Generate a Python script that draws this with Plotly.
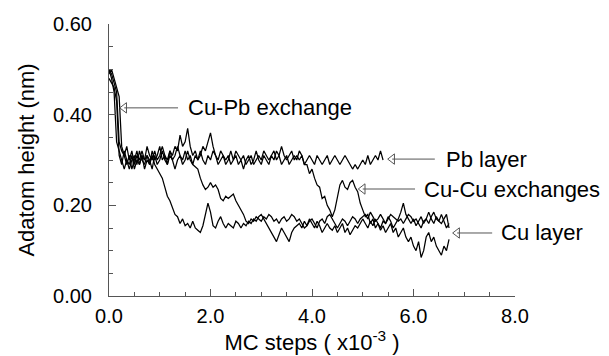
import numpy as np
import plotly.graph_objects as go

# Sampling interval of the recorded trajectories (x10^-3 MC steps)
STEP = 0.05

# Adatom height (nm) for the run that stays in the Pb layer
pb_run = [
    0.50, 0.49, 0.47, 0.45, 0.34, 0.32, 0.31, 0.33, 0.30, 0.32,
    0.29, 0.31, 0.30, 0.32, 0.30, 0.31, 0.29, 0.32, 0.30, 0.31,
    0.33, 0.30, 0.31, 0.29, 0.32, 0.30, 0.31, 0.33, 0.31, 0.30,
    0.32, 0.30, 0.31, 0.29, 0.31, 0.30, 0.32, 0.30, 0.29, 0.31,
    0.30, 0.32, 0.31, 0.29, 0.30, 0.31, 0.29, 0.30, 0.32, 0.30,
    0.31, 0.29, 0.30, 0.28, 0.30, 0.31, 0.29, 0.30, 0.32, 0.30,
    0.29, 0.31, 0.30, 0.29, 0.31, 0.30, 0.32, 0.31, 0.29, 0.30,
    0.31, 0.29, 0.30, 0.31, 0.30, 0.32, 0.31, 0.29, 0.30, 0.31,
    0.30, 0.29, 0.31, 0.30, 0.29, 0.30, 0.31, 0.29, 0.30, 0.31,
    0.30, 0.29, 0.30, 0.31, 0.30, 0.29, 0.28, 0.29, 0.28, 0.29,
    0.30, 0.29, 0.31, 0.29, 0.30, 0.31, 0.30, 0.32, 0.30,
]

# Run with an early Cu-Cu exchange (~1.0)
cu_run_a = [
    0.50, 0.48, 0.45, 0.34, 0.32, 0.30, 0.28, 0.30, 0.29, 0.31,
    0.28, 0.30, 0.29, 0.31, 0.28, 0.30, 0.29, 0.31, 0.29, 0.28,
    0.27, 0.26, 0.24, 0.22, 0.21, 0.195, 0.18, 0.175, 0.16, 0.17,
    0.155, 0.16, 0.15, 0.165, 0.15, 0.145, 0.14, 0.155, 0.18, 0.205,
    0.185, 0.155, 0.15, 0.165, 0.175, 0.16, 0.15, 0.16, 0.155, 0.15,
    0.165, 0.16, 0.15, 0.16, 0.155, 0.165, 0.16, 0.17, 0.165, 0.175,
    0.18, 0.17, 0.16, 0.15, 0.14, 0.13, 0.12, 0.135, 0.15, 0.14,
    0.13, 0.12, 0.14, 0.15, 0.155, 0.16, 0.15, 0.165, 0.155, 0.17,
    0.16, 0.15, 0.165, 0.155, 0.14, 0.15, 0.16, 0.15, 0.145, 0.155,
    0.14, 0.15, 0.16, 0.14, 0.15, 0.135, 0.145, 0.155, 0.15, 0.16,
    0.17, 0.16, 0.15, 0.165, 0.155, 0.17, 0.16, 0.15, 0.165, 0.16,
    0.175, 0.165, 0.15, 0.16, 0.17, 0.185, 0.205, 0.18, 0.17, 0.16,
    0.17, 0.155, 0.165, 0.175, 0.16, 0.17, 0.185, 0.17, 0.16, 0.175,
    0.165, 0.18, 0.165, 0.15, 0.16,
]

# Run with a Cu-Cu exchange around 1.8
cu_run_b = [
    0.48, 0.47, 0.46, 0.43, 0.31, 0.29, 0.32, 0.30, 0.28, 0.30,
    0.31, 0.29, 0.32, 0.30, 0.29, 0.31, 0.30, 0.28, 0.31, 0.29,
    0.30, 0.32, 0.30, 0.29, 0.31, 0.30, 0.28, 0.30, 0.31, 0.29,
    0.30, 0.32, 0.30, 0.29, 0.285, 0.28, 0.26, 0.245, 0.235, 0.24,
    0.25, 0.24, 0.245, 0.235, 0.215, 0.21, 0.22, 0.215, 0.22, 0.225,
    0.21, 0.20, 0.19, 0.18, 0.165, 0.16, 0.17, 0.165, 0.175, 0.17,
    0.165, 0.175, 0.17, 0.18, 0.175, 0.165, 0.17, 0.16, 0.17, 0.175,
    0.165, 0.17, 0.18, 0.175, 0.165, 0.17, 0.16, 0.15, 0.155, 0.165,
    0.17, 0.16, 0.15, 0.165, 0.17, 0.16, 0.175, 0.18, 0.17, 0.16,
    0.15, 0.16, 0.17, 0.165, 0.155, 0.165, 0.175, 0.17, 0.16, 0.17,
    0.175, 0.18, 0.17, 0.185, 0.175, 0.165, 0.17, 0.18, 0.17, 0.16,
    0.17, 0.18, 0.175, 0.17, 0.165, 0.17, 0.16, 0.17, 0.18, 0.175,
    0.165, 0.17, 0.16, 0.15, 0.165, 0.17, 0.16, 0.175, 0.185, 0.17,
    0.165, 0.16, 0.17, 0.18, 0.15,
]

# Run with a late, two-step Cu-Cu exchange (~4.0 and ~4.9)
cu_run_c = [
    0.49, 0.50, 0.48, 0.46, 0.44, 0.33, 0.31, 0.29, 0.31, 0.28,
    0.30, 0.32, 0.29, 0.31, 0.30, 0.33, 0.31, 0.30, 0.32, 0.30,
    0.31, 0.33, 0.31, 0.30, 0.32, 0.31, 0.33, 0.32, 0.355, 0.33,
    0.34, 0.37, 0.33, 0.31, 0.32, 0.30, 0.31, 0.33, 0.32, 0.34,
    0.36, 0.33, 0.31, 0.30, 0.32, 0.31, 0.30, 0.31, 0.29, 0.30,
    0.32, 0.31, 0.30, 0.31, 0.29, 0.30, 0.31, 0.29, 0.30, 0.31,
    0.30, 0.32, 0.31, 0.30, 0.31, 0.32, 0.30, 0.31, 0.33, 0.31,
    0.30, 0.31, 0.32, 0.30, 0.31, 0.30, 0.31, 0.29, 0.29, 0.27,
    0.28, 0.26, 0.245, 0.24, 0.215, 0.22, 0.20, 0.19, 0.175, 0.19,
    0.215, 0.245, 0.255, 0.24, 0.235, 0.25, 0.255, 0.24, 0.23, 0.205,
    0.19, 0.175, 0.18, 0.16, 0.17, 0.15, 0.16, 0.145, 0.155, 0.14,
    0.15, 0.16, 0.14, 0.15, 0.13, 0.14, 0.15, 0.13, 0.12, 0.13,
    0.11, 0.10, 0.12, 0.085, 0.10, 0.13, 0.14, 0.12, 0.13, 0.11,
    0.10, 0.09, 0.11, 0.10, 0.125,
]

runs = [pb_run, cu_run_a, cu_run_b, cu_run_c]

# Labelled arrows: text, arrow tip (x, y), arrow tail x, text start x
label_text = ["Cu-Pb exchange", "Pb layer", "Cu-Cu exchanges", "Cu layer"]
tip_x = [0.30, 5.58, 5.00, 6.86]
tip_y = [0.415, 0.302, 0.236, 0.139]
tail_x = [1.36, 6.42, 6.03, 7.55]
text_x = [1.52, 6.60, 6.17, 7.69]

FONT = "Liberation Sans, Arial, Helvetica, sans-serif"
AXIS_GREY = "#555555"

fig = go.Figure()

for run in runs:
    steps = np.round(np.arange(len(run)) * STEP, 3)
    fig.add_trace(go.Scatter(
        x=steps, y=run, mode="lines",
        line=dict(color="black", width=1.25),
        hoverinfo="skip",
    ))

# Arrow shafts
for tx, ty, sx in zip(tip_x, tip_y, tail_x):
    fig.add_shape(type="line", xref="x", yref="y",
                  x0=sx, y0=ty, x1=tx, y1=ty,
                  line=dict(color=AXIS_GREY, width=1))

# Open arrow heads
fig.add_trace(go.Scatter(
    x=tip_x, y=tip_y, mode="markers",
    marker=dict(symbol="triangle-left-open", size=9,
                color=AXIS_GREY, line=dict(width=1, color=AXIS_GREY)),
    hoverinfo="skip", cliponaxis=False,
))

for txt, lx, ty in zip(label_text, text_x, tip_y):
    fig.add_annotation(x=lx, y=ty, xref="x", yref="y", text=txt,
                       showarrow=False, xanchor="left", yanchor="middle",
                       font=dict(size=22, color="black", family=FONT))

axis_common = dict(
    showline=True, linecolor=AXIS_GREY, linewidth=1,
    ticks="inside", ticklen=7, tickwidth=1, tickcolor=AXIS_GREY,
    showgrid=False, zeroline=False, automargin=False,
    tickfont=dict(size=20, color="black", family=FONT),
)

fig.update_xaxes(
    range=[0, 8], tick0=0, dtick=2, tickformat=".1f",
    minor=dict(ticks="inside", ticklen=4, dtick=0.5, tick0=0,
               tickcolor=AXIS_GREY, showgrid=False),
    ticklabelstandoff=2,
    title=dict(text="MC steps ( x10<sup>-3</sup> )",
               font=dict(size=22, color="black", family=FONT), standoff=4),
    **axis_common,
)
fig.update_yaxes(
    range=[0, 0.6], tick0=0, dtick=0.2, tickformat=".2f",
    minor=dict(ticks="inside", ticklen=4, dtick=0.05, tick0=0,
               tickcolor=AXIS_GREY, showgrid=False),
    ticklabelstandoff=12,
    title=dict(text="Adatom height (nm)",
               font=dict(size=22, color="black", family=FONT), standoff=12),
    **axis_common,
)

fig.update_layout(
    width=609, height=356,
    margin=dict(l=109, r=94, t=24, b=60),
    paper_bgcolor="white", plot_bgcolor="white",
    showlegend=False,
    font=dict(family=FONT, color="black"),
)

fig.write_html("out.html")
